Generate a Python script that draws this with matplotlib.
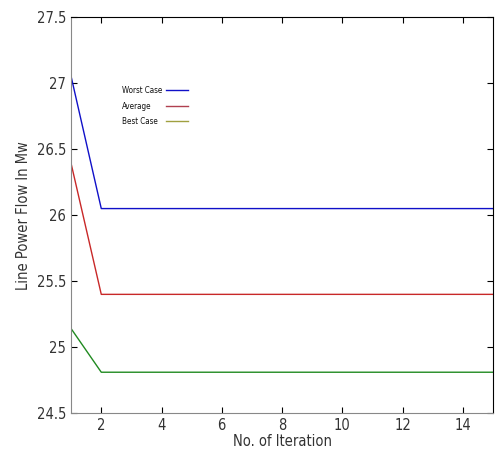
import numpy as np
import matplotlib.pyplot as plt

iterations = np.arange(1, 16)
worst_case = [27.05] + [26.05] * 14
average = [26.39] + [25.40] * 14
best_case = [25.14] + [24.81] * 14
labels = ['Worst Case', 'Average', 'Best Case']
line_colors = ['#1010c8', '#c82828', '#208a20']
legend_colors = ['#1010c8', '#b04050', '#a0a040']

plt.rcParams['font.family'] = ['DejaVu Sans']
plt.rcParams['font.stretch'] = 'condensed'

fig = plt.figure(figsize=(5.01, 4.53), dpi=100)
ax = fig.add_axes([0.142, 0.088, 0.842, 0.874])

for ys, c in zip([worst_case, average, best_case], line_colors):
    ax.plot(iterations, ys, color=c, lw=1)

ax.set_xlim(1, 15)
ax.set_ylim(24.5, 27.5)
ax.set_xticks([2, 4, 6, 8, 10, 12, 14])
ax.set_yticks([24.5, 25, 25.5, 26, 26.5, 27, 27.5])
ax.set_yticklabels(['24.5', '25', '25.5', '26', '26.5', '27', '27.5'])
ax.tick_params(direction='in', top=True, right=True, labelsize=10.5, length=4,
               labelcolor='#333333')
for s in ['left', 'bottom']:
    ax.spines[s].set_color('#888888')

ax.set_xlabel('No. of Iteration', fontsize=10.5, labelpad=1, color='#333333')
ax.set_ylabel('Line Power Flow In Mw', fontsize=10.5, labelpad=4, color='#333333')

# legend drawn by hand: text first, line after
row_y = [0.816, 0.775, 0.737]
line_x0 = [0.224, 0.226, 0.226]
for lab, c, yy, x0 in zip(labels, legend_colors, row_y, line_x0):
    ax.text(0.121, yy, lab, transform=ax.transAxes, fontsize=5.8, va='center',
            ha='left', color='#111111')
    ax.plot([x0, 0.277], [yy, yy], transform=ax.transAxes, color=c, lw=1)

fig.savefig('out.png', dpi=100)
